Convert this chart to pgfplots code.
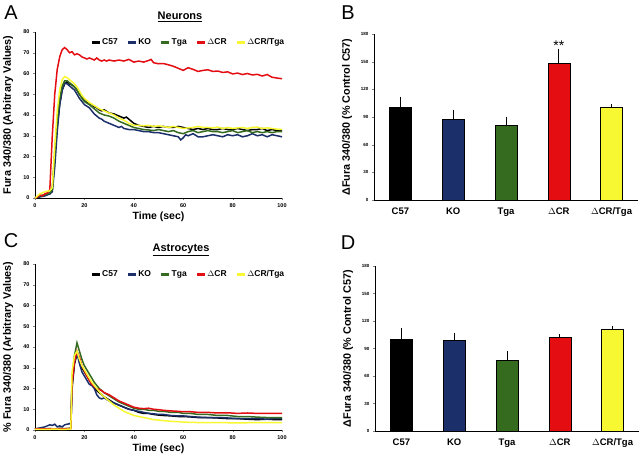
\documentclass[border=0pt]{standalone}
\usepackage{pgfplots}
\pgfplotsset{compat=1.18}
\usepackage{fontspec}
\setmainfont{Liberation Sans}
\definecolor{koblue}{HTML}{1B2F6B}
\definecolor{tgagreen}{HTML}{356B1E}
\definecolor{crred}{HTML}{E30D12}
\definecolor{cryel}{HTML}{F8F832}
\pgfplotsset{
  lineax/.style={
    scale only axis, width=247pt, height=166pt,
    xmin=0, xmax=100, ymin=0, ymax=80,
    axis x line=bottom, axis y line=left, axis line style={-, line width=0.6pt},
    xtick={0,20,...,100}, ytick={0,10,...,80},
    tick align=outside, major tick length=2pt,
    /pgf/number format/assume math mode=true,
    tick label style={font=\bfseries\fontsize{5.5}{6}\selectfont},
    xlabel={\bfseries Time (sec)},
    xlabel style={at={(axis description cs:0.5,-0.115)}, anchor=center, font=\bfseries\fontsize{10.5}{12}\selectfont},
    ylabel style={at={(axis description cs:-0.109,0.5)}, anchor=center, font=\bfseries\fontsize{10.8}{12}\selectfont},
    legend columns=5,
    legend style={at={(1.03,0.985)}, anchor=north east, draw=none, fill=none,
      font=\bfseries\fontsize{8.5}{10}\selectfont, /tikz/every even column/.append style={column sep=7pt},
      /tikz/every odd column/.append style={column sep=-1pt}},
    legend image code/.code={\draw[line width=2.6pt,#1] (0pt,0pt) -- (8pt,0pt);},
    every axis plot/.append style={line width=1.5pt, mark=none},
  },
  barax/.style={
    scale only axis, width=264pt, height=166pt,
    xmin=-0.5, xmax=4.5, ymin=0, ymax=180,
    axis x line=bottom, axis y line=left, axis line style={-, line width=0.6pt},
    ytick={0,30,...,180}, xtick={0,1,2,3,4},
    xticklabels={C57,KO,Tga,$\Delta$CR,$\Delta$CR/Tga},
    major x tick style={draw=none},
    tick align=outside, major tick length=2pt,
    /pgf/number format/assume math mode=true,
    yticklabel style={font=\bfseries\fontsize{4.5}{5}\selectfont},
    xticklabel style={font=\bfseries\fontsize{9.5}{11}\selectfont, yshift=-2pt},
    ylabel style={at={(axis description cs:-0.102,0.5)}, anchor=center, font=\bfseries\fontsize{10.8}{12}\selectfont},
    ylabel={\bfseries ΔFura 340/380 (\% Control C57)},
    ybar, bar width=22pt, bar shift=0pt,
    every axis plot/.append style={draw=black, line width=0.6pt},
    error bars/y dir=plus, error bars/y explicit,
    error bars/error bar style={line width=0.8pt, black},
    error bars/error mark options={line width=0.8pt, mark size=1pt, black},
  }
}
\begin{document}
\begin{tikzpicture}[x=1pt,y=1pt]
\useasboundingbox (0,0) rectangle (640,456);
% Panel A
\begin{axis}[lineax, at={(35pt,258pt)}, anchor=south west,
  ylabel={Fura 340/380 (Arbitrary Values)}]
\addplot[black] coordinates {(0,0) (2,1) (4,1.5) (6,2) (7,4) (8,20) (9,35) (10,45) (11,52) (12,55) (13,56) (14,55) (15,54.5) (16,53.5) (17,52) (18,50) (19,48.5) (20,47) (21,46) (22,45.5) (23,45) (24,44) (25,43.5) (26,42.5) (27,42) (28,42.5) (30,41) (32,40.5) (34,39.5) (36,38.5) (37,39) (38,38) (40,36) (42,35) (44,34.5) (46,34) (48,34.5) (50,34) (52,34.5) (54,34) (56,34) (58,34.5) (60,34) (62,33.5) (64,33) (66,33.5) (68,33) (70,33.5) (72,33) (74,33) (76,33.5) (78,33) (80,33) (82,33.5) (84,33) (86,32.5) (88,33) (90,33) (92,33.5) (94,32.5) (96,33) (98,32.5) (100,32.5)};
\addlegendentry{C57}
\addplot[koblue] coordinates {(0,0) (2,0.5) (4,1) (6,2) (7,3) (8,15) (9,32) (10,45) (11,52) (12,55.5) (13,55) (14,54) (16,52) (17,50) (18,48) (19,46.5) (20,45) (22,43.5) (24,40.5) (26,38.5) (27,38) (28,37) (30,36) (32,35) (34,34) (35,34.5) (36,33.5) (38,33) (40,33) (42,32.5) (44,32) (46,32) (48,31.5) (50,31.5) (52,31) (54,30.5) (56,30) (58,29.5) (59,28) (60,29) (61,30.5) (62,30) (64,31) (66,29.5) (68,29.5) (70,30) (72,30.5) (74,30) (76,29.5) (78,30.5) (80,30) (82,30.5) (84,29.5) (86,30) (88,31) (90,30) (92,30.5) (94,29.5) (96,30.5) (98,30) (100,29.5)};
\addlegendentry{KO}
\addplot[tgagreen] coordinates {(0,0) (2,1) (4,1.5) (6,2.5) (7,4) (8,22) (9,38) (10,48) (11,54) (12,56.5) (13,56.5) (14,55.5) (16,53.5) (17,52) (18,50) (19,48) (20,46.5) (22,45) (24,43) (26,41) (28,40) (30,39.5) (32,38.5) (34,37) (36,36) (38,35) (40,34) (42,33.5) (44,33) (46,32.8) (48,32.5) (50,33) (52,32.5) (54,32) (56,32.5) (58,31.5) (60,31) (62,32) (64,32.5) (66,31.5) (68,32) (70,32.5) (72,32) (74,32) (76,31.5) (78,32) (80,32.5) (82,31.5) (84,32) (86,32.5) (88,31.5) (90,32) (92,31.5) (94,32) (96,31.5) (98,32) (100,32)};
\addlegendentry{Tga}
\addplot[crred] coordinates {(0,0) (1,0.5) (2,1.5) (3,1) (4,2) (5,2.5) (6,4) (7,30) (8,50) (9,62) (10,68) (11,71.5) (12,72.5) (13,71.5) (14,70) (15,70.5) (16,69) (17,69.5) (18,69) (19,68) (20,67.5) (21,67) (22,67.5) (23,67) (24,66.5) (25,67.5) (26,66.5) (27,66) (28,66.5) (29,66) (30,66.5) (32,66) (34,66.5) (36,66) (38,66.8) (40,65.5) (42,66) (44,65.5) (46,66.3) (47,66.8) (48,65.2) (50,64.7) (52,64.8) (54,64.2) (56,63.5) (58,62.5) (60,61.5) (62,62.8) (64,62) (66,61) (68,61.5) (70,61.8) (72,61) (74,61.2) (76,60.5) (78,60.8) (80,59.8) (82,60.2) (84,59.5) (86,60) (88,59.3) (90,59.6) (92,58.8) (94,59.5) (96,58.2) (98,57.8) (100,57.5)};
\addlegendentry{$\Delta$CR}
\addplot[cryel] coordinates {(0,0) (2,2) (4,3) (6,3.5) (7,5) (8,25) (9,42) (10,52) (11,57) (12,58.5) (13,58) (14,57) (16,55) (17,53.5) (18,51.5) (19,49.5) (20,48) (22,46) (24,44.5) (26,43) (28,42) (30,41) (32,40) (34,38.5) (36,37.5) (38,36) (40,35) (42,35) (44,34.8) (46,35) (48,34.5) (50,34.8) (52,34.5) (54,34) (56,34.5) (58,34) (60,33.5) (62,33.8) (64,34) (66,34.5) (68,34) (70,34) (72,33.8) (74,34.2) (76,33.5) (78,34) (80,33.5) (82,33.8) (84,34) (86,33.5) (88,34) (90,34.2) (92,33.5) (94,33.8) (96,33.5) (98,33.2) (100,33)};
\addlegendentry{$\Delta$CR/Tga}
\end{axis}
% Panel C
\begin{axis}[lineax, at={(35pt,26pt)}, anchor=south west,
  ylabel={\% Fura 340/380 (Arbitrary Values)}]
\addplot[black] coordinates {(0,0.5) (2,0.8) (4,0.5) (6,0.7) (8,0.5) (10,0.8) (12,0.5) (14,0.6) (14.5,1) (15,20) (16,32) (17,36.5) (18,34) (19,30) (20,28) (21,26) (22,24) (23,22) (24,20.5) (25,19) (26,18) (27,17) (28,16) (30,14.5) (32,13) (34,12) (36,11) (38,10) (40,9.5) (42,8.5) (44,8) (46,8) (48,7.5) (50,7.2) (52,7) (55,6.8) (58,6.5) (60,6.5) (63,6.3) (66,6) (70,6) (74,5.8) (78,5.5) (82,5.5) (86,5.2) (90,5) (94,5.2) (97,5) (100,5)};
\addlegendentry{C57}
\addplot[koblue] coordinates {(0,0.5) (2,1) (4,1.5) (5,2) (6,2.5) (7,2.2) (8,2.8) (9,1.5) (10,2) (11,1.5) (12,2.5) (13,2.8) (14,3) (14.5,3.5) (15,22) (16,33) (17,37) (18,32) (19,28) (20,26) (21,24) (22,22) (23,21.5) (24,20) (25,17) (26,15.5) (27,15) (28,15.5) (30,14) (32,13) (34,12) (36,11) (38,10) (40,9.5) (42,9) (44,8.5) (46,8) (48,7.8) (50,7.5) (52,7.5) (55,7) (58,6.8) (60,6.8) (63,6.5) (66,6.2) (70,6) (74,6) (78,5.8) (82,5.5) (86,5.5) (90,5.5) (94,5.2) (97,5.5) (100,5.5)};
\addlegendentry{KO}
\addplot[tgagreen] coordinates {(0,0.5) (4,0.6) (8,0.5) (12,0.7) (14.5,0.8) (15,25) (16,36) (17,42) (18,38) (19,34) (20,31) (21,29) (22,27) (23,25) (24,23) (25,21.5) (26,20) (27,19) (28,18) (30,16.5) (32,15) (34,13.5) (36,12.5) (38,11.5) (40,10.5) (42,10) (44,10) (46,9.5) (48,9.5) (50,9) (52,9) (55,8.5) (58,8.5) (60,8) (63,8) (66,7.5) (70,7.5) (74,7) (78,7) (82,6.5) (86,6.5) (90,6.2) (94,6) (97,6) (100,6)};
\addlegendentry{Tga}
\addplot[crred] coordinates {(0,0.5) (4,0.5) (8,0.6) (12,0.5) (14.5,0.8) (15,22) (16,33) (17,38) (18,35) (19,31) (20,28.5) (21,26) (22,24) (23,22) (24,21) (25,20) (26,19.5) (27,19) (28,18) (30,17) (32,15.5) (34,14) (36,13) (38,12) (40,11) (42,10.5) (44,10.3) (46,10.5) (48,10) (50,9.8) (52,9.5) (55,9.2) (58,9) (60,8.8) (63,8.8) (66,8.5) (70,8.5) (74,8.2) (78,8.3) (82,8) (86,8.2) (90,8) (94,8) (97,8) (100,8)};
\addlegendentry{$\Delta$CR}
\addplot[cryel] coordinates {(0,0.3) (4,0.3) (8,0.4) (12,0.3) (14.5,0.5) (15,28) (16,36) (17,38) (18,34) (19,31) (20,29) (21,27) (22,25) (23,23) (24,21.5) (25,20) (26,18.5) (27,17) (28,16) (30,14) (32,12) (34,10.5) (36,9) (38,8) (40,7) (42,6.5) (44,6) (46,5.5) (48,5) (50,4.8) (52,4.5) (55,4.2) (58,4) (60,3.8) (63,3.7) (66,3.6) (70,3.5) (74,3.5) (78,3.5) (82,3.4) (86,3.5) (90,3.5) (94,3.5) (97,3.5) (100,3.5)};
\addlegendentry{$\Delta$CR/Tga}
\end{axis}
% Panel B
\begin{axis}[barax, at={(374pt,256pt)}, anchor=south west]
\addplot[fill=black] coordinates {(0,100) +- (0,11)};
\addplot[fill=koblue] coordinates {(1,87) +- (0,10)};
\addplot[fill=tgagreen] coordinates {(2,81) +- (0,8)};
\addplot[fill=crred] coordinates {(3,148) +- (0,15)};
\addplot[fill=cryel] coordinates {(4,100) +- (0,3)};
\node[font=\fontsize{14}{14}\selectfont] at (axis cs:3,167) {**};
\end{axis}
% Panel D
\begin{axis}[barax, at={(375pt,25pt)}, anchor=south west, height=165pt]
\addplot[fill=black] coordinates {(0,100) +- (0,11)};
\addplot[fill=koblue] coordinates {(1,99) +- (0,7)};
\addplot[fill=tgagreen] coordinates {(2,77) +- (0,9)};
\addplot[fill=crred] coordinates {(3,102) +- (0,3)};
\addplot[fill=cryel] coordinates {(4,111) +- (0,3)};
\end{axis}
% titles and panel letters
\node[font=\bfseries\fontsize{11}{12}\selectfont] at (180,439) {\underline{Neurons}};
\node[font=\bfseries\fontsize{11}{12}\selectfont] at (181,206) {\underline{Astrocytes}};
\node[font=\fontsize{20}{20}\selectfont] at (11,443) {A};
\node[font=\fontsize{20}{20}\selectfont] at (348,443) {B};
\node[font=\fontsize{20}{20}\selectfont] at (11,215) {C};
\node[font=\fontsize{20}{20}\selectfont] at (348,213) {D};
\end{tikzpicture}
\end{document}
